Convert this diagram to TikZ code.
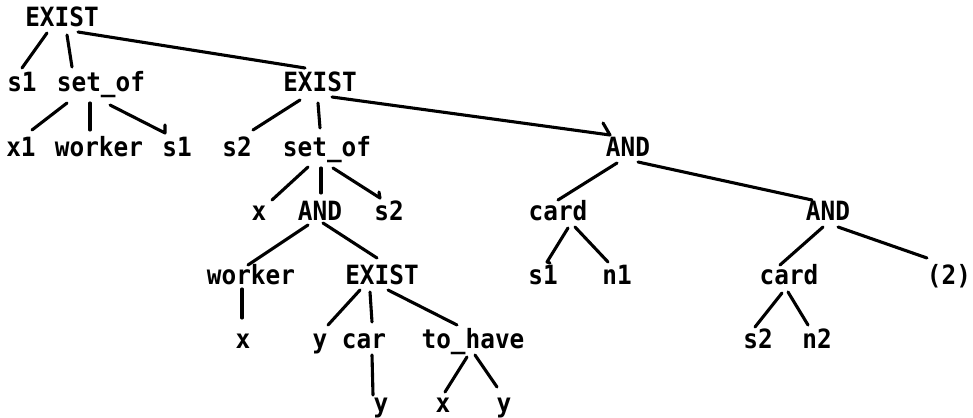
\documentclass[tikz,border=0pt]{standalone}
\usepackage{fontspec}
\newfontfamily\treefont{DejaVu Sans Mono}[FakeStretch=0.92]
\tikzset{
  lbl/.style={anchor=base, inner sep=0pt, text height=19pt, text depth=0pt,
    font=\treefont\bfseries\fontsize{26.5}{28}\selectfont},
  branch/.style={line width=3.1pt, line cap=round, line join=round}
}
\begin{document}
\begin{tikzpicture}[x=1pt,y=-1pt]
\useasboundingbox (0,0) rectangle (973,417);
% row 1
\node[lbl] (r) at (62,27) {EXIST};
% row 2
\node[lbl] (s1a) at (22,92) {s1};
\node[lbl] (so1) at (101,92) {set\_of};
\node[lbl] (e2) at (320,92) {EXIST};
% row 3
\node[lbl] (x1) at (21,156) {x1};
\node[lbl] (wk1) at (99,156) {worker};
\node[lbl] (s1b) at (177,156) {s1};
\node[lbl] (s2a) at (237,156) {s2};
\node[lbl] (so2) at (327,156) {set\_of};
\node[lbl] (and1) at (628,156) {AND};
% row 4
\node[lbl] (x) at (259,220) {x};
\node[lbl] (and2) at (320,220) {AND};
\node[lbl] (s2b) at (389,220) {s2};
\node[lbl] (card1) at (558,220) {card};
\node[lbl] (and3) at (828,220) {AND};
% row 5
\node[lbl] (wk2) at (251,284) {worker};
\node[lbl] (e3) at (382,284) {EXIST};
\node[lbl] (s1c) at (543,284) {s1};
\node[lbl] (n1) at (617,284) {n1};
\node[lbl] (card2) at (789,284) {card};
\node[lbl] (p2) at (949,284) {(2)};
% row 6
\node[lbl] (x2) at (243,348) {x};
\node[lbl] (y1) at (320,348) {y};
\node[lbl] (car) at (364,348) {car};
\node[lbl] (th) at (473,348) {to\_have};
\node[lbl] (s2c) at (758,348) {s2};
\node[lbl] (n2) at (817,348) {n2};
% row 7
\node[lbl] (y2) at (381,412) {y};
\node[lbl] (x3) at (443,412) {x};
\node[lbl] (y3) at (504,412) {y};

% connectors
\draw[branch] ([shift={(-15,6)}]r.base) -- ([shift={(0,-24)}]s1a.base);
\draw[branch] ([shift={(5,8)}]r.base) -- ([shift={(-29,-25)}]so1.base);
\draw[branch] ([shift={(16,5)}]r.base) -- ([shift={(-15,-24)}]e2.base);
\draw[branch] ([shift={(-34,11)}]so1.base) -- ([shift={(11,-26)}]x1.base);
\draw[branch] ([shift={(-11,11)}]so1.base) -- ([shift={(-9,-26)}]wk1.base);
\draw[branch] ([shift={(9,13)}]so1.base) -- ([shift={(-12,-23)}]s1b.base) -- ++(0,-8);
\draw[branch] ([shift={(-20,8)}]e2.base) -- ([shift={(16,-26)}]s2a.base);
\draw[branch] ([shift={(-2,11)}]e2.base) -- ([shift={(-7,-28)}]so2.base);
\draw[branch] ([shift={(12,5)}]e2.base) -- ([shift={(-18,-21)}]and1.base) -- ++(-7,-12);
\draw[branch] ([shift={(-19,11)}]so2.base) -- ([shift={(13,-20)}]x.base);
\draw[branch] ([shift={(-6,12)}]so2.base) -- ([shift={(1,-27)}]and2.base);
\draw[branch] ([shift={(6,12)}]so2.base) -- ([shift={(-9,-22)}]s2b.base) -- ++(-1,-6);
\draw[branch] ([shift={(-12,5)}]and2.base) -- ([shift={(-3,-19)}]wk2.base);
\draw[branch] ([shift={(3,3)}]and2.base) -- ([shift={(-5,-26)}]e3.base);
\draw[branch] ([shift={(-9,5)}]wk2.base) -- ([shift={(-1,-30)}]x2.base);
\draw[branch] ([shift={(-22,6)}]e3.base) -- ([shift={(8,-23)}]y1.base);
\draw[branch] ([shift={(-12,8)}]e3.base) -- ([shift={(8,-26)}]car.base);
\draw[branch] ([shift={(6,6)}]e3.base) -- ([shift={(-16,-23)}]th.base);
\draw[branch] ([shift={(8,7)}]car.base) -- ([shift={(-8,-17)}]y2.base);
\draw[branch] ([shift={(-6,9)}]th.base) -- ([shift={(2,-20)}]x3.base);
\draw[branch] ([shift={(2,7)}]th.base) -- ([shift={(-7,-25)}]y3.base);
\draw[branch] ([shift={(-11,7)}]and1.base) -- ([shift={(0,-20)}]card1.base);
\draw[branch] ([shift={(10,6)}]and1.base) -- ([shift={(-16,-20)}]and3.base);
\draw[branch] ([shift={(10,8)}]card1.base) -- ([shift={(4,-22)}]s1c.base) -- ++(3,1);
\draw[branch] ([shift={(17,7)}]card1.base) -- ([shift={(-9,-22)}]n1.base);
\draw[branch] ([shift={(-5,7)}]and3.base) -- ([shift={(-9,-19)}]card2.base);
\draw[branch] ([shift={(10,7)}]and3.base) -- ([shift={(-22,-26)}]p2.base);
\draw[branch] ([shift={(-7,9)}]card2.base) -- ([shift={(-3,-21)}]s2c.base);
\draw[branch] ([shift={(-1,8)}]card2.base) -- ([shift={(-9,-23)}]n2.base);
\end{tikzpicture}
\end{document}
